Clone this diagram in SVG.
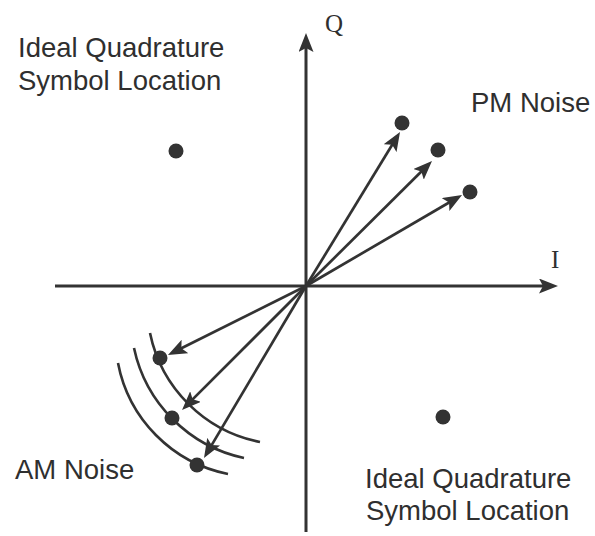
<svg xmlns="http://www.w3.org/2000/svg" width="595" height="536" viewBox="0 0 595 536">
  <style>
    .txt { font-family: "Liberation Sans", Arial, sans-serif; font-size: 27.5px; fill: #2f2f2f; }
    .axlbl { font-family: "Liberation Serif", "Times New Roman", serif; font-size: 25px; fill: #2f2f2f; }
    .line { stroke: #333333; stroke-width: 3; fill: none; }
    .vec { stroke: #333333; stroke-width: 2.7; fill: none; marker-end: url(#ah); }
    .arc { stroke: #333333; stroke-width: 2.6; fill: none; }
    .dot { fill: #333333; }
  </style>
  <defs>
    <marker id="ah" viewBox="0 0 19 15" refX="9" refY="7.5" markerWidth="19" markerHeight="15" markerUnits="userSpaceOnUse" orient="auto">
      <path d="M0,0 L19,7.5 L0,15 L4,7.5 Z" fill="#333333"/>
    </marker>
  </defs>
  <rect width="595" height="536" fill="#ffffff"/>

  <g id="axes">
    <path class="line" d="M55,286 L548,286" marker-end="url(#ah)"/>
    <path class="line" d="M306,532 L306,43" marker-end="url(#ah)"/>
    <text class="axlbl" x="325" y="32">Q</text>
    <text class="axlbl" x="551" y="268">I</text>
  </g>

  <g id="am-arcs">
    <path class="arc" d="M150,333 A140,140 0 0 0 260,442"/>
    <path class="arc" d="M134,348 A143,143 0 0 0 244,458"/>
    <path class="arc" d="M118,363 A140,140 0 0 0 228,474"/>
  </g>

  <g id="connectors">
    <path class="vec" d="M306,286 L394.8,140.5"/>
    <path class="vec" d="M306,286 L424.9,168.0"/>
    <path class="vec" d="M306,286 L453.4,200.0"/>
    <path class="vec" d="M306,286 L176.9,350.5"/>
    <path class="vec" d="M306,286 L189.1,402.9"/>
    <path class="vec" d="M306,286 L209.1,449.4"/>
  </g>

  <g id="pm-points">
    <circle class="dot" cx="402" cy="123" r="7.5"/>
    <circle class="dot" cx="438" cy="150" r="7.5"/>
    <circle class="dot" cx="470" cy="192" r="7.5"/>
  </g>

  <g id="am-points">
    <circle class="dot" cx="160" cy="358" r="7.5"/>
    <circle class="dot" cx="172" cy="418" r="7.5"/>
    <circle class="dot" cx="197" cy="465" r="7.5"/>
  </g>

  <g id="ideal-top-left">
    <circle class="dot" cx="176" cy="151" r="7.5"/>
    <text class="txt" x="18" y="57">Ideal Quadrature</text>
    <text class="txt" x="18" y="90">Symbol Location</text>
  </g>

  <g id="ideal-bottom-right">
    <circle class="dot" cx="443" cy="417" r="7.5"/>
    <text class="txt" x="365" y="488">Ideal Quadrature</text>
    <text class="txt" x="366" y="520">Symbol Location</text>
  </g>

  <g id="pm-label">
    <text class="txt" x="471" y="112">PM Noise</text>
  </g>

  <g id="am-label">
    <text class="txt" x="15" y="479">AM Noise</text>
  </g>
</svg>
